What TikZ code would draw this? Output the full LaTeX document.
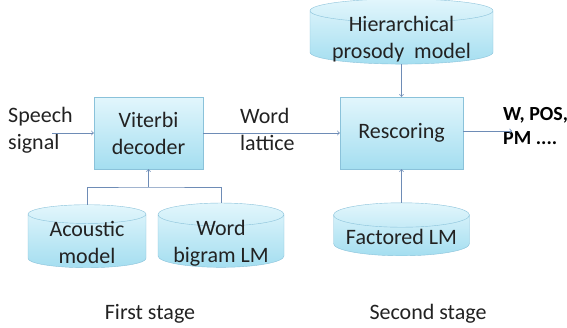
\documentclass[tikz,border=0pt]{standalone}
\usepackage{fontspec}
\setmainfont{Carlito}
\usetikzlibrary{shapes.geometric}
\definecolor{boxtop}{HTML}{E2F6FC}
\definecolor{boxbot}{HTML}{A4DEF0}
\definecolor{boxline}{HTML}{8AC2DA}
\definecolor{flowline}{HTML}{6E8CB6}
\definecolor{textgray}{HTML}{222222}
\newcommand\capstrut{\rule{0pt}{19pt}}
\begin{document}
\begin{tikzpicture}[x=1pt,y=-1pt,
  font=\fontsize{22}{27}\selectfont, text=textgray,
  stagebox/.style={draw=boxline, top color=boxtop, bottom color=boxbot,
    minimum width=109pt, minimum height=72pt, align=center, inner sep=0pt},
  store/.style={cylinder, shape border rotate=90, aspect=0.25, draw=boxline,
    top color=boxtop, bottom color=boxbot, align=center,
    inner xsep=0pt, inner ysep=-10pt},
  flow/.style={draw=flowline, line width=0.8pt},
  label/.style={align=left, anchor=north west, inner sep=0pt}]
\useasboundingbox (0,0) rectangle (567,327);
\coordinate (speechin) at (52,133);
\coordinate (out) at (512,131);
\coordinate (join) at (148.5,187);

\node[stagebox] (viterbi) at (148.5,133) {Viterbi\\decoder};
\node[stagebox, minimum width=123pt] (rescoring) at (401.5,133) {Rescoring};
\node[store, aspect=0.17, minimum width=183pt, minimum height=59pt] (prosody) at (401.5,37.5) {\capstrut Hierarchical\\prosody\ \ model};
\node[store, aspect=0.22, minimum width=136pt, minimum height=53pt] (factored) at (401.5,235.5) {\capstrut Factored LM};
\node[store, minimum width=118pt, minimum height=63pt] (acoustic) at (87,241) {\capstrut Acoustic\\model};
\node[store, aspect=0.24, minimum width=126pt, minimum height=63pt] (bigram) at (221,241) {\capstrut Word\\bigram LM};

\node[label] (speech) at (8,107) {Speech\\signal};
\node[label] (lattice) at (240,108) {Word\\lattice};
\node[label, font=\fontsize{20}{24}\selectfont\bfseries, text=black] (result) at (503,107) {W, POS,\\PM ....};
\node (first) at (150,314) {First stage};
\node (second) at (428,314) {Second stage};

\draw[flow, ->] (speechin) -- (viterbi.west);
\draw[flow, ->] (viterbi.east) -- (rescoring.west);
\draw[flow, ->] (rescoring.east |- out) -- (out);
\draw[flow, ->] (prosody.south) -- (rescoring.north);
\draw[flow, ->] (factored.north) -- (rescoring.south);
\draw[flow] (acoustic.north) |- (join) -| (bigram.north);
\draw[flow, ->] (join) -- (viterbi.south);
\end{tikzpicture}
\end{document}
